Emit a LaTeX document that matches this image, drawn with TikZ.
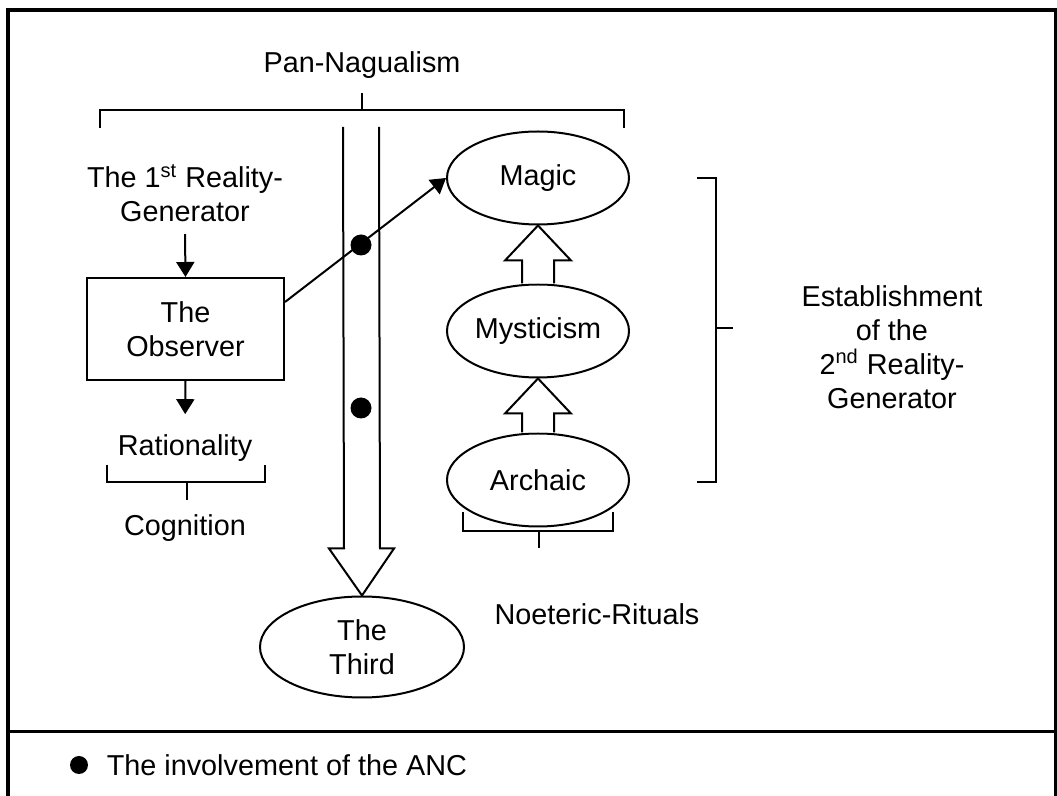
\documentclass[tikz,border=0pt]{standalone}
\usepackage{fontspec}
\setmainfont{Liberation Sans}
\usetikzlibrary{shapes.geometric,arrows.meta,calc,positioning}
\tikzset{
  oval/.style={draw, ellipse, line width=1pt, minimum width=91pt, minimum height=46.5pt, inner sep=0pt, align=center},
  brk/.style={line width=1pt},
  anc/.style={circle, fill, inner sep=0pt, minimum size=10.5pt},
  txt/.style={align=center, inner sep=0pt},
  ptr/.style={line width=1pt, -{Triangle[length=7.5pt,width=9pt]}},
  blk/.style={draw, line width=1pt, fill=white, line join=miter}
}
\begin{document}
\begin{tikzpicture}[x=0.5pt, y=-0.5pt, font=\fontsize{14.4}{17}\selectfont]
        \useasboundingbox (0,0) rectangle (1057,796);
        % frame and key line
        \draw[line width=2pt] (8,800) -- (8,10) -- (1056,10) -- (1056,800);
        \draw[line width=1.5pt] (8,732) -- (1056,732);

        \node[txt] (pan) at (362,65) {Pan-Nagualism};
        \node[txt] (gen1) at (185,193) {The 1\textsuperscript{st} Reality-\\Generator};
        \node[draw, line width=1pt, minimum width=98.5pt, minimum height=51pt, txt] (obs) at (185.5,329) {The\\Observer};
        \node[txt] (rat) at (185,448) {Rationality};
        \node[txt] (cog) at (185,528) {Cognition};
        \node[oval] (magic) at (538,178) {Magic};
        \node[oval] (myst) at (538,331) {Mysticism};
        \node[oval] (arch) at (538,480) {Archaic};
        \node[oval, minimum width=102pt, minimum height=50.5pt] (third) at (362,647) {The\\Third};
        \node[txt] (noet) at (597,614) {Noeteric-Rituals};
        \node[txt] (est) at (892,347) {Establishment\\of the\\2\textsuperscript{nd} Reality-\\Generator};

        % brackets
        \draw[brk] (100,128) -- (100,110) -- (624,110) -- (624,128);
        \draw[brk] (362,110) -- (362,93);
        \draw[brk] (107,465) -- (107,482) -- (265,482) -- (265,465);
        \draw[brk] (187,482) -- (187,500);
        \draw[brk] (463,512) -- (463,531) -- (613,531) -- (613,512);
        \draw[brk] (539,531) -- (539,548);
        \draw[brk] (697,178) -- (716,178) -- (716,482) -- (697,482);
        \draw[brk] (716,328) -- (733,328);

        % big arrow down to the third
        \coordinate (shafttop) at (361,127);
        \draw[blk] ($(shafttop)+(-18,0)$) -- ($(third.north)+(-18,-47)$) -- ($(third.north)+(-33,-47)$) -- (third.north)
            -- ($(third.north)+(32,-47)$) -- ($(third.north)+(18,-47)$) -- ($(shafttop)+(18,0)$);
        \foreach \a/\b in {arch/myst, myst/magic}{
                \draw[blk] ($(\a.north)+(-16,0)$) -- ($(\b.south)+(-16,35)$) -- ($(\b.south)+(-33,35)$) -- (\b.south)
                    -- ($(\b.south)+(33,35)$) -- ($(\b.south)+(16,35)$) -- ($(\a.north)+(16,0)$);
            }

        \draw[ptr] ([yshift=-6pt]gen1.south) -- (obs.north);
        \draw[ptr, shorten >=10pt] (obs.south) -- (rat.north);
        \draw[ptr] ([yshift=13.5pt]obs.east) -- (magic.west);
        \foreach \y/\n in {245/1, 408/2}{
                \node[anc] (dot\n) at (361,\y) {};
            }

        % key
        \node[anc, minimum size=9pt] (key) at (79,765) {};
        \node[right=9pt of key, inner sep=0pt] (keytxt) {The involvement of the ANC};
    \end{tikzpicture}
\end{document}
